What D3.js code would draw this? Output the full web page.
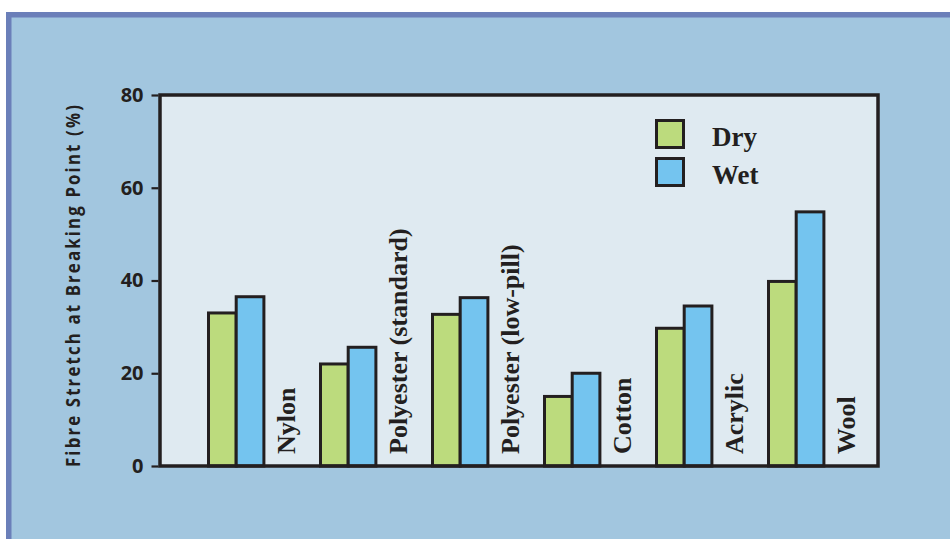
<!DOCTYPE html>
<html>
<head>
<meta charset="utf-8">
<script src="https://cdn.jsdelivr.net/npm/d3@7"></script>
<style>
  html, body { margin: 0; padding: 0; background: #ffffff; }
  svg { display: block; }
</style>
</head>
<body>
<svg id="chart" width="950" height="539"></svg>
<script>
// Fibre stretch at breaking point, dry vs wet
const categories = ["Nylon", "Polyester (standard)", "Polyester (low-pill)", "Cotton", "Acrylic", "Wool"];
const dryValues = [33, 22, 32.7, 15, 29.7, 39.8];
const wetValues = [36.5, 25.6, 36.3, 20, 34.5, 54.8];
const seriesNames = ["Dry", "Wet"];
const yTicks = [0, 20, 40, 60, 80];
const yTitle = "Fibre Stretch at Breaking Point (%)";

const colors = { Dry: "#bcdb7d", Wet: "#74c4ef" };
const ink = "#231f20";

const svg = d3.select("#chart");

// outer panel with its blue frame on the top and left
svg.append("rect").attr("x", 6).attr("y", 12).attr("width", 950).attr("height", 540).attr("fill", "#6b7fb9");
svg.append("rect").attr("x", 11.5).attr("y", 17.5).attr("width", 950).attr("height", 540).attr("fill", "#a2c6df");

const plot = { left: 160, right: 878, top: 95, bottom: 466 };

const y = d3.scaleLinear().domain([0, 80]).range([plot.bottom, plot.top]);
const x = d3.scaleBand().domain(categories).range([208.5, 880.5]).paddingInner(0).paddingOuter(0);
const barW = 27.7;
const sub = d3.scaleBand().domain(seriesNames).range([0, barW * 2]);

// plot background
svg.append("rect")
  .attr("x", plot.left).attr("y", plot.top)
  .attr("width", plot.right - plot.left).attr("height", plot.bottom - plot.top)
  .attr("fill", "#dfeaf1");

// bars
const rows = categories.map((c, i) => ({ cat: c, Dry: dryValues[i], Wet: wetValues[i] }));
const groups = svg.append("g").selectAll("g").data(rows).join("g")
  .attr("transform", d => `translate(${x(d.cat)},0)`);

groups.selectAll("rect").data(d => seriesNames.map(s => ({ s, v: d[s] }))).join("rect")
  .attr("x", d => sub(d.s))
  .attr("y", d => y(d.v))
  .attr("width", sub.bandwidth())
  .attr("height", d => y(0) - y(d.v))
  .attr("fill", d => colors[d.s])
  .attr("stroke", ink)
  .attr("stroke-width", 3);

// category labels, rotated, beside each pair of bars
svg.append("g").selectAll("text").data(categories).join("text")
  .attr("transform", d => `translate(${x(d) + 86},454) rotate(-90)`)
  .attr("text-anchor", "start")
  .attr("font-family", "'Liberation Serif', 'Times New Roman', serif")
  .attr("font-weight", "bold")
  .attr("font-size", 26)
  .attr("fill", ink)
  .text(d => d);

// plot frame
svg.append("rect")
  .attr("x", plot.left).attr("y", plot.top)
  .attr("width", plot.right - plot.left).attr("height", plot.bottom - plot.top)
  .attr("fill", "none").attr("stroke", ink).attr("stroke-width", 3.5);

// y axis
const yAxis = svg.append("g")
  .attr("transform", `translate(${plot.left - 1.5},0)`)
  .call(d3.axisLeft(y).tickValues(yTicks).tickSize(7).tickPadding(8));
yAxis.select(".domain").remove();
yAxis.selectAll(".tick line").attr("stroke", ink).attr("stroke-width", 2.2);
yAxis.selectAll(".tick text")
  .attr("font-family", "'Open Sans', sans-serif")
  .attr("font-weight", "bold")
  .attr("font-size", 20)
  .attr("fill", ink);

// y axis title: condensed, letter-spaced
svg.append("text")
  .attr("transform", `translate(80,${(103 + 467) / 2}) rotate(-90)`)
  .attr("text-anchor", "middle")
  .attr("font-family", "'Open Sans', sans-serif")
  .attr("font-weight", "bold")
  .attr("font-size", 19.5)
  .attr("letter-spacing", 2.5)
  .attr("textLength", 364)
  .attr("lengthAdjust", "spacingAndGlyphs")
  .attr("fill", ink)
  .text(yTitle);

// legend
const legend = svg.append("g").selectAll("g").data(seriesNames).join("g")
  .attr("transform", (d, i) => `translate(656.5,${120.5 + i * 38})`);
legend.append("rect")
  .attr("width", 27).attr("height", 27)
  .attr("fill", d => colors[d])
  .attr("stroke", ink).attr("stroke-width", 3);
legend.append("text")
  .attr("x", 55.5).attr("y", 25.5)
  .attr("font-family", "'Liberation Serif', 'Times New Roman', serif")
  .attr("font-weight", "bold")
  .attr("font-size", 27)
  .attr("fill", ink)
  .text(d => d);
</script>
</body>
</html>
